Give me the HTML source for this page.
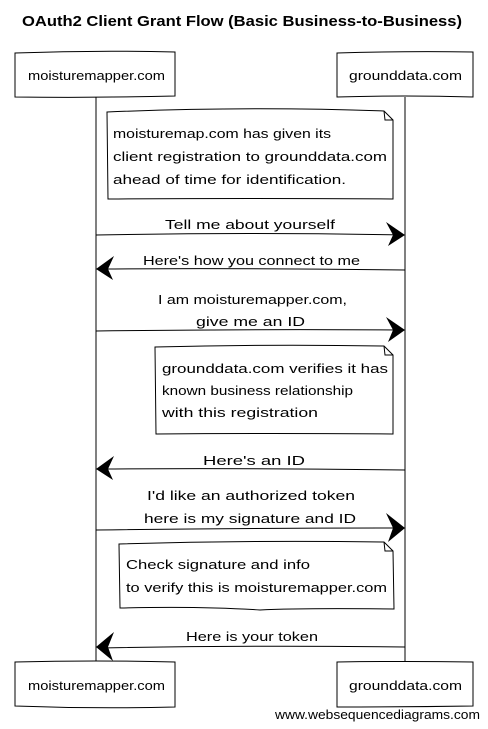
<!DOCTYPE html>
<html><head><meta charset="utf-8"><style>
html,body{margin:0;padding:0;background:#fff;width:488px;height:729px;overflow:hidden}
svg text{font-family:"Liberation Sans",sans-serif;fill:#000}
</style></head><body>
<svg width="488" height="729" viewBox="0 0 488 729" xmlns="http://www.w3.org/2000/svg">
<g stroke="#000" stroke-width="1" fill="none">
<line x1="96" y1="97" x2="96" y2="661"/>
<line x1="405" y1="97" x2="405" y2="662"/>
<path d="M15 53 Q95 50 175 52 L175 96 Q95 98 15 97 Z" fill="#fff"/>
<path d="M337 53 Q405 51 473 52 L473 97 Q405 95 337 97 Z" fill="#fff"/>
<path d="M15 662 Q95 660 175 662 L175 707 Q95 709 15 706 Z" fill="#fff"/>
<path d="M337 662 Q405 661 473 662 L473 706 Q405 707 337 707 Z" fill="#fff"/>
<path d="M107 112 Q250 106 384 111 L393 120 L393 199 Q250 198 108 199 Z" fill="#fff"/>
<path d="M384 111 L385 120 L393 120"/>
<path d="M155 347 Q270 344 384 346 L393 355 L393 434 Q270 433 156 434 Z" fill="#fff"/>
<path d="M384 346 L385 355 L393 355"/>
<path d="M119 544 Q250 540 384 542 L393 551 L394 609 Q300 608 260 610 Q200 606 120 608 Z" fill="#fff"/>
<path d="M384 542 L385 551 L393 551"/>
<path d="M96 235 Q250 232 400 235"/>
<path d="M100 269 Q250 268 405 270"/>
<path d="M96 331 Q250 329 400 330"/>
<path d="M100 469 Q250 468 405 470"/>
<path d="M96 530 Q250 528 400 528"/>
<path d="M100 648 Q250 645 405 647"/>
</g>
<g fill="#000">
<polygon points="405,235 386,222 393,235 388,246"/>
<polygon points="96,269 114,256 108,269 113,280"/>
<polygon points="405,330 386,317 393,330 388,342"/>
<polygon points="96,469 114,456 108,469 113,480"/>
<polygon points="405,528 386,513 393,528 388,542"/>
<polygon points="96,647 114,632 108,647 113,661"/>
</g>
<g font-size="13" lengthAdjust="spacingAndGlyphs">
<text x="22" y="26" font-size="15" font-weight="bold" textLength="440" lengthAdjust="spacingAndGlyphs">OAuth2 Client Grant Flow (Basic Business-to-Business)</text>
<text x="28" y="80" textLength="137" lengthAdjust="spacingAndGlyphs">moisturemapper.com</text>
<text x="349" y="80" textLength="113" lengthAdjust="spacingAndGlyphs">grounddata.com</text>
<text x="28" y="690" textLength="137" lengthAdjust="spacingAndGlyphs">moisturemapper.com</text>
<text x="349" y="690" textLength="113" lengthAdjust="spacingAndGlyphs">grounddata.com</text>
<text x="113" y="138" textLength="218" lengthAdjust="spacingAndGlyphs">moisturemap.com has given its</text>
<text x="113" y="161" textLength="274" lengthAdjust="spacingAndGlyphs">client registration to grounddata.com</text>
<text x="113" y="184" textLength="233" lengthAdjust="spacingAndGlyphs">ahead of time for identification.</text>
<text x="165" y="229" textLength="170" lengthAdjust="spacingAndGlyphs">Tell me about yourself</text>
<text x="143" y="265" textLength="217" lengthAdjust="spacingAndGlyphs">Here's how you connect to me</text>
<text x="158" y="304" textLength="189" lengthAdjust="spacingAndGlyphs">I am moisturemapper.com,</text>
<text x="196" y="326" textLength="109" lengthAdjust="spacingAndGlyphs">give me an ID</text>
<text x="162" y="373" textLength="226" lengthAdjust="spacingAndGlyphs">grounddata.com verifies it has</text>
<text x="162" y="395" textLength="191" lengthAdjust="spacingAndGlyphs">known business relationship</text>
<text x="162" y="417" textLength="156" lengthAdjust="spacingAndGlyphs">with this registration</text>
<text x="203" y="465" textLength="102" lengthAdjust="spacingAndGlyphs">Here's an ID</text>
<text x="147" y="500" textLength="208" lengthAdjust="spacingAndGlyphs">I'd like an authorized token</text>
<text x="144" y="523" textLength="212" lengthAdjust="spacingAndGlyphs">here is my signature and ID</text>
<text x="126" y="569" textLength="184" lengthAdjust="spacingAndGlyphs">Check signature and info</text>
<text x="126" y="592" textLength="261" lengthAdjust="spacingAndGlyphs">to verify this is moisturemapper.com</text>
<text x="186" y="641" textLength="132" lengthAdjust="spacingAndGlyphs">Here is your token</text>
<text x="275" y="719" font-size="13" textLength="205" lengthAdjust="spacingAndGlyphs">www.websequencediagrams.com</text>
</g>
</svg>
</body></html>
